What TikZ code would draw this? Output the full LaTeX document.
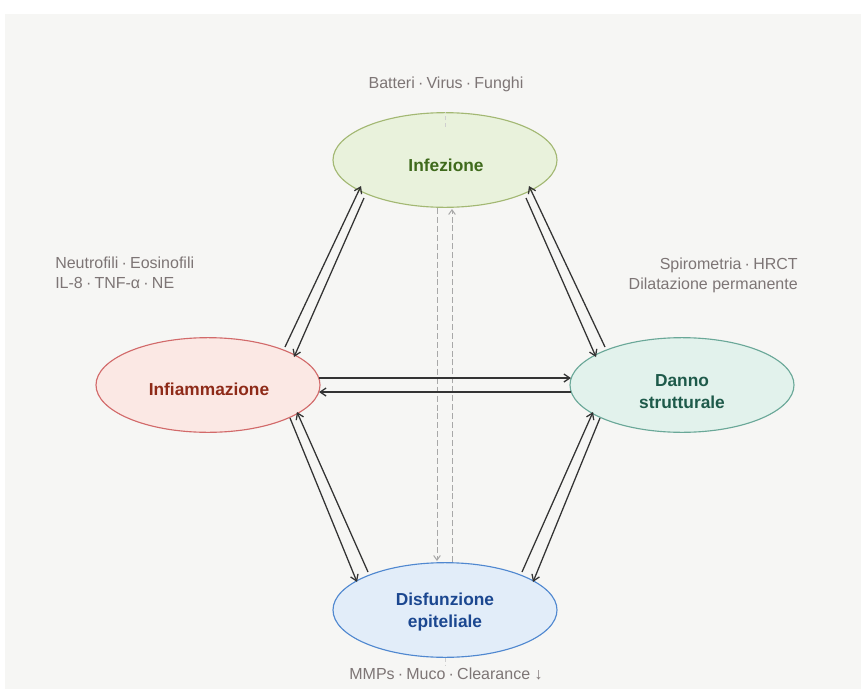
\documentclass[tikz,border=0pt]{standalone}
\usepackage{fontspec}
\setmainfont{Liberation Sans}
\usetikzlibrary{arrows.meta,shapes.geometric}
\definecolor{panel}{HTML}{F6F6F4}
\definecolor{infB}{HTML}{A3B873}
\definecolor{infF}{HTML}{E9F2DC}
\definecolor{infT}{HTML}{3F6A1C}
\definecolor{flmB}{HTML}{D26A6A}
\definecolor{flmF}{HTML}{FBE8E4}
\definecolor{flmT}{HTML}{8E2A18}
\definecolor{danB}{HTML}{6AA898}
\definecolor{danF}{HTML}{E2F2EC}
\definecolor{danT}{HTML}{1E5A4A}
\definecolor{disB}{HTML}{5088D0}
\definecolor{disF}{HTML}{E2EDF9}
\definecolor{disT}{HTML}{1B4790}
\definecolor{note}{HTML}{7D7575}
\definecolor{arr}{HTML}{333333}
\definecolor{dash}{HTML}{A8A8A8}
\definecolor{dashlt}{HTML}{CFCFCF}
\newcommand\dsep{\hspace{0.2em}·\hspace{0.2em}}
\begin{document}
\begin{tikzpicture}[x=0.75pt,y=-0.75pt,
  blob/.style={ellipse,minimum width=168pt,minimum height=71pt,inner sep=0pt,line width=0.85pt},
  title/.style={font=\fontsize{13pt}{16.5pt}\selectfont\bfseries,align=center,inner sep=0pt},
  notetext/.style={font=\fontsize{12pt}{15pt}\selectfont,text=note,inner sep=0pt},
  link/.style={draw=arr,line width=0.95pt,-{Straight Barb[length=4.5pt,width=6pt]}},
  dlink/.style={draw=dash,line width=0.75pt,dash pattern=on 4.5pt off 2.2pt,-{Straight Barb[length=3.5pt,width=5pt]}},
  tick/.style={draw=dashlt,line width=0.75pt,dash pattern=on 3pt off 2pt}]
\useasboundingbox (0,0) rectangle (861,689);
\fill[white] (0,0) rectangle (861,689);
\fill[panel] (5,14) rectangle (861,689);

% ellipses
\node[blob,draw=infB,fill=infF] (infz) at (445,160) {};
\node[blob,draw=flmB,fill=flmF] (flm) at (208,385) {};
\node[blob,draw=danB,fill=danF] (dan) at (682,385) {};
\node[blob,draw=disB,fill=disF] (dis) at (445,610) {};

% titles
\node[title,text=infT] (infzt) at (446,165) {Infezione};
\node[title,text=flmT] (flmt) at (209,389) {Infiammazione};
\node[title,text=danT] (dant) at (682,392) {Danno\\strutturale};
\node[title,text=disT] (dist) at (445,612) {Disfunzione\\epiteliale};

% notes
\node[notetext] (n1) at (446,84) {Batteri\dsep Virus\dsep Funghi};
\node[notetext,anchor=west,align=left] (n2) at (55,273) {Neutrofili\dsep Eosinofili\\IL-8\dsep TNF-α\dsep NE};
\node[notetext,anchor=east,align=right] (n3) at (798,275) {Spirometria\dsep HRCT\\Dilatazione permanente};
\node[notetext] (n4) at (446,674) {MMPs\dsep Muco\dsep Clearance ↓};

% small dashed ticks
\draw[tick] ([yshift=-11pt]infz.north) -- (infz.north);
\draw[tick] (dis.south) -- ([yshift=-6pt]dis.south);

% dashed verticals
\path[dlink] ([shift={(-8,48)}]infz.center) -- ([shift={(-8,-49)}]dis.center);
\path[dlink] ([shift={(7,-48)}]dis.center) -- ([shift={(7,49)}]infz.center);

% Infezione <-> Infiammazione
\path[link] ([shift={(77,-38)}]flm.center) -- ([shift={(-84,26)}]infz.center);
\path[link] ([shift={(-81,38)}]infz.center) -- ([shift={(86,-28)}]flm.center);
% Infezione <-> Danno
\path[link] ([shift={(-77,-38)}]dan.center) -- ([shift={(84,26)}]infz.center);
\path[link] ([shift={(81,38)}]infz.center) -- ([shift={(-86,-28)}]dan.center);
% Infiammazione <-> Disfunzione
\path[link] ([shift={(82,33)}]flm.center) -- ([shift={(-88,-28)}]dis.center);
\path[link] ([shift={(-77,-38)}]dis.center) -- ([shift={(89,27)}]flm.center);
% Danno <-> Disfunzione
\path[link] ([shift={(-82,33)}]dan.center) -- ([shift={(88,-28)}]dis.center);
\path[link] ([shift={(77,-38)}]dis.center) -- ([shift={(-89,27)}]dan.center);
% Infiammazione <-> Danno
\path[link] ([shift={(111,-7)}]flm.center) -- ([shift={(-111,-7)}]dan.center);
\path[link] ([shift={(-111,7)}]dan.center) -- ([shift={(111,7)}]flm.center);
\end{tikzpicture}
\end{document}
